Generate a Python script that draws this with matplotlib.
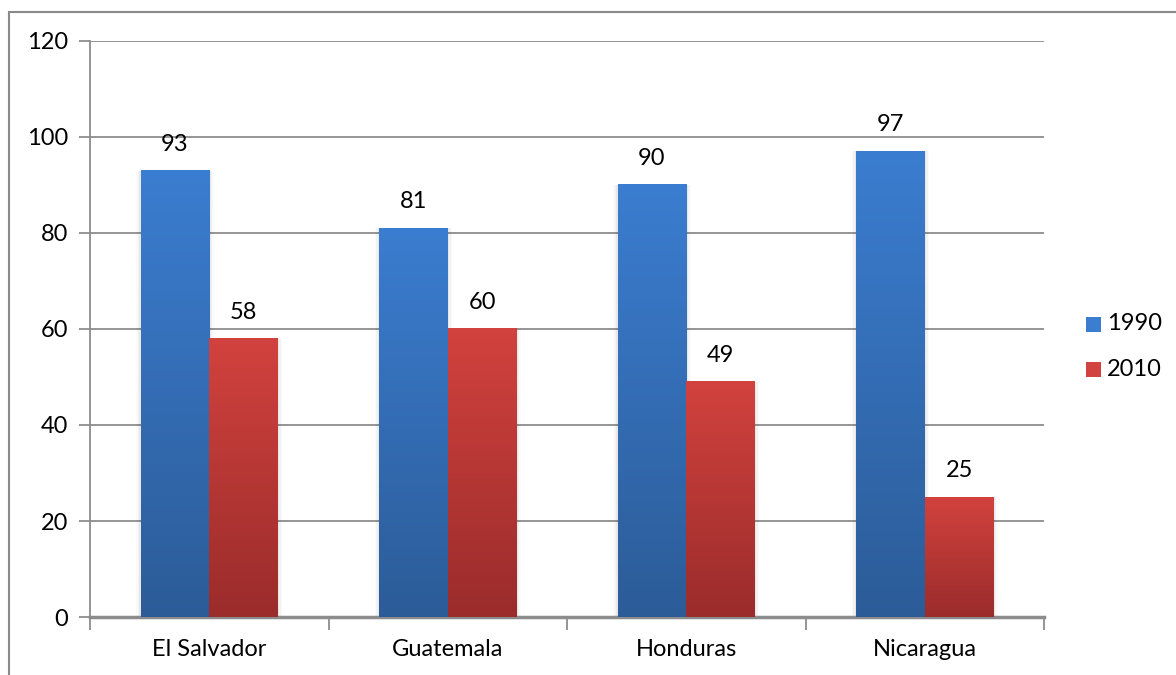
import numpy as np
import matplotlib
matplotlib.use("Agg")
import matplotlib.pyplot as plt
from matplotlib.colors import LinearSegmentedColormap
from matplotlib.patches import Rectangle

plt.rcParams['font.family'] = ['Lato', 'DejaVu Sans']

countries = ["El Salvador", "Guatemala", "Honduras", "Nicaragua"]
years = ["1990", "2010"]
values_1990 = [93, 81, 90, 97]
values_2010 = [58, 60, 49, 25]
yticks = [0, 20, 40, 60, 80, 100, 120]

# top / bottom colours of the vertical gradient fill for each series
grad_colors = {
    "1990": ("#3b7dd0", "#2c5c98"),
    "2010": ("#d2423e", "#9a2c2b"),
}
grid_color = "#8c8c8c"
FS = 17

W, H = 1176, 675
fig = plt.figure(figsize=(W / 100, H / 100), dpi=100)
ax = fig.add_axes([90 / W, 1 - 617 / H, (1044 - 90) / W, (617 - 41) / H])

bar_w = 0.288
x = np.arange(len(countries))


def gradient_bar(xc, h, top, bottom):
    cmap = LinearSegmentedColormap.from_list("g", [bottom, top])
    x0, x1 = xc - bar_w / 2, xc + bar_w / 2
    # soft shadow along the sides of the bar
    for i, a in enumerate([0.04, 0.03, 0.02]):
        dx = 0.006 * (i + 1)
        ax.add_patch(Rectangle((x0 - dx, 0), bar_w + 2 * dx, h,
                               facecolor="black", alpha=a, edgecolor="none", zorder=2))
    grad = np.linspace(0, 1, 256).reshape(-1, 1)
    ax.imshow(grad, aspect="auto", cmap=cmap, origin="lower",
              extent=(x0, x1, 0, h), zorder=3, interpolation="bicubic")
    ax.text(xc, h + 5.5, f"{h:g}", ha="center", va="center", fontsize=FS, color="black", zorder=4)


for series, vals, off in [("1990", values_1990, -bar_w / 2), ("2010", values_2010, bar_w / 2)]:
    top, bottom = grad_colors[series]
    for xi, v in zip(x, vals):
        gradient_bar(xi + off, v, top, bottom)

ax.set_xlim(-0.5, len(countries) - 0.5)
ax.set_ylim(0, 120)
ax.set_yticks(yticks)
ax.set_yticklabels([str(t) for t in yticks], fontsize=FS)
ax.yaxis.grid(True, color=grid_color, linewidth=1.3)
ax.set_axisbelow(True)
ax.tick_params(axis="y", length=8, width=1.3, color=grid_color, pad=8)

ax.set_xticks(np.arange(-0.5, len(countries), 1.0))
ax.set_xticklabels([])
ax.set_xticks(x, minor=True)
ax.set_xticklabels(countries, minor=True, fontsize=FS)
ax.tick_params(axis="x", which="major", length=9, width=1.3, color=grid_color)
ax.tick_params(axis="x", which="minor", length=0, pad=16)

for s in ["top", "right"]:
    ax.spines[s].set_visible(False)
for s in ["left", "bottom"]:
    ax.spines[s].set_color(grid_color)
    ax.spines[s].set_linewidth(1.3)
ax.spines["bottom"].set_linewidth(2.5)

# legend
for series, ypix in [("1990", 324), ("2010", 369)]:
    top, bottom = grad_colors[series]
    fig.patches.append(Rectangle((1086 / W, 1 - (ypix + 8) / H), 15 / W, 15 / H,
                                 transform=fig.transFigure, facecolor=top,
                                 edgecolor="none"))
    fig.text(1107 / W, 1 - ypix / H, series, fontsize=FS, va="center", ha="left")

# outer chart border
fig.patches.append(Rectangle((9 / W, -0.1), 1.2, 1 - 12 / H + 0.1,
                             transform=fig.transFigure, facecolor="none",
                             edgecolor="#8a8a8a", linewidth=1.5))

fig.savefig("out.png", dpi=100)
